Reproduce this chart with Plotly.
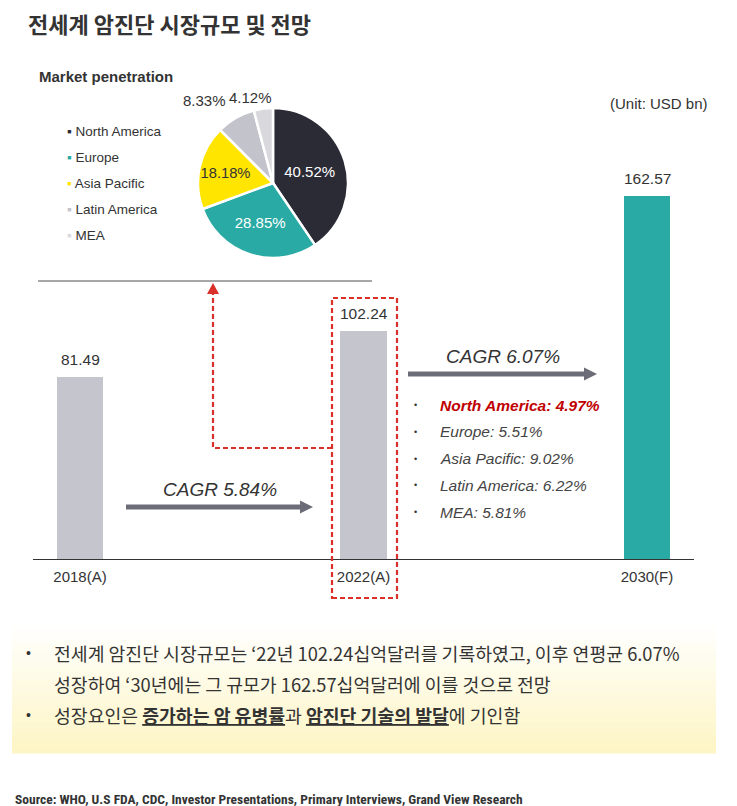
import math
import plotly.graph_objects as go

# The page body has an 8px margin; the figure is sized so that it fills the 737x806 window.
OFF = 8
W, H = 737 - OFF, 806 - OFF

# ---------------- data ----------------
years = ["2018(A)", "2022(A)", "2030(F)"]
market_size = [81.49, 102.24, 162.57]
bar_colors = ["#c5c5cd", "#c5c5cd", "#29aaa4"]

regions = ["North America", "Europe", "Asia Pacific", "Latin America", "MEA"]
penetration = [40.52, 28.85, 18.18, 8.33, 4.12]
region_colors = ["#2b2b36", "#29aaa4", "#ffe500", "#c3c3cb", "#d9d9dd"]
pie_text_pos = ["inside", "inside", "inside", "none", "none"]
pie_text_col = ["white", "white", "#333333", "#333333", "#333333"]

cagr_labels = ["CAGR 5.84%", "CAGR 6.07%"]
regional_cagr = [4.97, 5.51, 9.02, 6.22, 5.81]

title_text = "전세계 암진단 시장규모 및 전망"
unit_text = "(Unit: USD bn)"
pie_title = "Market penetration"
summary_lines = [
    "전세계 암진단 시장규모는 ‘22년 102.24십억달러를 기록하였고, 이후 연평균 6.07%",
    "성장하여 ‘30년에는 그 규모가 162.57십억달러에 이를 것으로 전망",
    "성장요인은 <b><u>증가하는 암 유병률</u></b>과 <b><u>암진단 기술의 발달</u></b>에 기인함",
]
source_text = "Source: WHO, U.S FDA, CDC, Investor Presentations, Primary Interviews, Grand View Research"

LAT = "Liberation Sans, Arial, sans-serif"
KR = "Noto Sans CJK KR, sans-serif"
DARK = "#333333"


def px(x):
    return (x - OFF) / W


def py(y):
    return 1 - (y - OFF) / H


fig = go.Figure()

fig.add_trace(go.Bar(
    x=years, y=market_size, marker=dict(color=bar_colors, line=dict(width=0)),
    width=0.1623, hoverinfo="skip", xaxis="x", yaxis="y",
))

PIE_CX, PIE_CY, PIE_R = 273, 183, 75
fig.add_trace(go.Pie(
    labels=regions, values=penetration, sort=False, direction="clockwise", rotation=0,
    marker=dict(colors=region_colors, line=dict(color="white", width=2.5)),
    texttemplate="%{value:.2f}%", textposition=pie_text_pos,
    insidetextorientation="horizontal",
    insidetextfont=dict(family=LAT, size=15, color=pie_text_col),
    domain=dict(x=[px(PIE_CX - PIE_R), px(PIE_CX + PIE_R)],
                y=[py(PIE_CY + PIE_R), py(PIE_CY - PIE_R)]),
    showlegend=False, hoverinfo="skip",
))

shapes = []
annotations = []

# gradient summary box
y0, y1 = 624, 753
n = 30
top_c = (255, 255, 255)
bot_c = (253, 245, 196)
for i in range(n):
    t = (i + 0.5) / n
    c = tuple(round(top_c[k] + (bot_c[k] - top_c[k]) * t) for k in range(3))
    ya = y0 + (y1 - y0) * i / n
    yb = y0 + (y1 - y0) * (i + 1) / n + 0.6
    for xa, xb in [(12, 716), (733, 737)]:
        shapes.append(dict(type="rect", xref="paper", yref="paper",
                           x0=px(xa), x1=px(xb), y0=py(yb), y1=py(ya),
                           fillcolor=f"rgb{c}", line=dict(width=0), layer="below"))

# gray separator line under the pie
shapes.append(dict(type="line", xref="paper", yref="paper", x0=px(38), x1=px(372),
                   y0=py(281), y1=py(281), line=dict(color="#8a8a8a", width=1.5)))

# CAGR arrows
ARW = "#6c6c78"
for (xa, xb, xt, yy) in [(126, 300, 313, 507), (408, 584, 597, 374)]:
    shapes.append(dict(type="line", xref="paper", yref="paper", x0=px(xa), x1=px(xb + 1),
                       y0=py(yy), y1=py(yy), line=dict(color=ARW, width=5)))
    shapes.append(dict(type="path", xref="paper", yref="paper",
                       path=f"M {px(xb)} {py(yy - 6.5)} L {px(xb)} {py(yy + 6.5)} L {px(xt)} {py(yy)} Z",
                       fillcolor=ARW, line=dict(width=0)))

# red dashed highlight box + connector
RED = "#d9302a"
shapes.append(dict(type="rect", xref="paper", yref="paper", x0=px(332), x1=px(397),
                   y0=py(598), y1=py(298), line=dict(color=RED, width=2.2, dash="5px,3px")))
shapes.append(dict(type="path", xref="paper", yref="paper",
                   path=f"M {px(332)} {py(448)} L {px(213)} {py(448)} L {px(213)} {py(294)}",
                   line=dict(color=RED, width=2.2, dash="5px,3px")))
shapes.append(dict(type="path", xref="paper", yref="paper",
                   path=f"M {px(207)} {py(294)} L {px(219)} {py(294)} L {px(213)} {py(283)} Z",
                   fillcolor=RED, line=dict(width=0)))

# title
annotations.append(dict(text=f"<b>{title_text}</b>", x=px(26), y=py(22.5), xref="paper", yref="paper",
                        xanchor="left", yanchor="middle", showarrow=False,
                        font=dict(family=KR, size=22, color=DARK)))
annotations.append(dict(text=f"<b>{pie_title}</b>", x=px(37), y=py(76), xref="paper", yref="paper",
                        xanchor="left", yanchor="middle", showarrow=False,
                        font=dict(family=LAT, size=15, color=DARK)))
annotations.append(dict(text=unit_text, x=px(710), y=py(103), xref="paper", yref="paper",
                        xanchor="right", yanchor="middle", showarrow=False,
                        font=dict(family=LAT, size=15, color=DARK)))

# outside labels for the two small slices, placed from the slice mid-angles
total = sum(penetration)
cum = 0.0
for i, v in enumerate(penetration):
    mid = (cum + v / 2) / total * 2 * math.pi
    cum += v
    if pie_text_pos[i] != "none":
        continue
    d = PIE_R + 8
    lx = PIE_CX + d * math.sin(mid)
    ly = PIE_CY - d * math.cos(mid)
    if i == 3:
        anchor, xs, ys = "right", -4, 0
    else:
        anchor, xs, ys = "center", -12, -7
    annotations.append(dict(text=f"{v:.2f}%", x=px(lx), y=py(ly), xref="paper", yref="paper",
                            xanchor=anchor, yanchor="bottom", xshift=xs, yshift=ys, showarrow=False,
                            font=dict(family=LAT, size=15, color=DARK)))

# pie legend
for i, (name, col) in enumerate(zip(regions, region_colors)):
    annotations.append(dict(text=f"<span style='color:{col}'>▪</span> {name}",
                            x=px(65), y=py(131 + 26.2 * i), xref="paper", yref="paper",
                            xanchor="left", yanchor="middle", showarrow=False,
                            font=dict(family=LAT, size=13.5, color=DARK)))

# bar value labels
for yr, v in zip(years, market_size):
    annotations.append(dict(text=f"{v:.2f}", x=yr, y=v, xref="x", yref="y",
                            xanchor="center", yanchor="bottom", yshift=7, showarrow=False,
                            font=dict(family=LAT, size=15.5, color=DARK)))

# CAGR labels
for txt, (cx, cy) in zip(cagr_labels, [(220, 489), (503, 356)]):
    annotations.append(dict(text=f"<i>{txt}</i>", x=px(cx), y=py(cy), xref="paper", yref="paper",
                            xanchor="center", yanchor="middle", showarrow=False,
                            font=dict(family=LAT, size=19, color=DARK)))

# regional CAGR bullet list
for i, (name, v) in enumerate(zip(regions, regional_cagr)):
    yy = 405 + 26.8 * i
    annotations.append(dict(text="•", x=px(415), y=py(yy), xref="paper", yref="paper",
                            xanchor="center", yanchor="middle", showarrow=False,
                            font=dict(family=LAT, size=9, color=DARK)))
    if i == 0:
        t = f"<b><i>{name}: {v:.2f}%</i></b>"
        c = "#c00000"
    else:
        t = f"<i>{name}: {v:.2f}%</i>"
        c = "#444444"
    annotations.append(dict(text=t, x=px(438), y=py(yy), xref="paper", yref="paper",
                            xanchor="left", yanchor="middle", showarrow=False,
                            font=dict(family=LAT, size=15.5, color=c)))

# summary text
for line, yy, bullet in zip(summary_lines, [653, 684, 715], [True, False, True]):
    if bullet:
        annotations.append(dict(text="•", x=px(28), y=py(yy), xref="paper", yref="paper",
                                xanchor="center", yanchor="middle", showarrow=False,
                                font=dict(family=LAT, size=14, color=DARK)))
    annotations.append(dict(text=line, x=px(52), y=py(yy), xref="paper", yref="paper",
                            xanchor="left", yanchor="middle", showarrow=False,
                            font=dict(family=KR, size=18.3, color=DARK)))

annotations.append(dict(text=f"<b>{source_text}</b>", x=px(13), y=py(799), xref="paper", yref="paper",
                        xanchor="left", yanchor="middle", showarrow=False,
                        font=dict(family="Liberation Sans Narrow, Roboto Condensed, Liberation Sans",
                                  size=13.5, color=DARK)))

fig.update_layout(
    width=W, height=H, margin=dict(l=0, r=0, t=0, b=0, pad=0),
    paper_bgcolor="white", plot_bgcolor="rgba(0,0,0,0)",
    showlegend=False, bargap=0,
    xaxis=dict(type="category", domain=[px(33), px(694)], range=[-0.1658, 2.1658],
               showline=True, linecolor="#333333", linewidth=1.2, ticks="",
               tickfont=dict(family=LAT, size=15, color=DARK), ticklabelstandoff=4,
               showgrid=False, zeroline=False, fixedrange=True),
    yaxis=dict(domain=[py(559), py(59)], range=[0, 224.2], visible=False,
               showgrid=False, zeroline=False, fixedrange=True),
    shapes=shapes, annotations=annotations,
)

fig.write_html("out.html")
